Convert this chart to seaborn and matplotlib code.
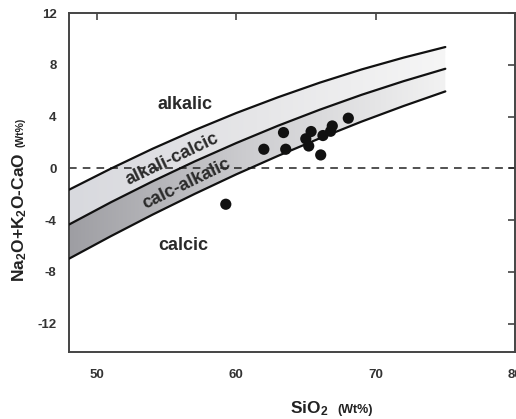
import numpy as np
import pandas as pd
import matplotlib
matplotlib.use("Agg")
import matplotlib.pyplot as plt
from matplotlib.colors import LinearSegmentedColormap
import seaborn as sns

# Limites MALI (Frost et al. 2001)
sio2_lim = [48, 51, 54, 57, 60, 63, 66, 69, 72, 75]
lim_alcalico = [-1.66, -0.03, 1.51, 2.94, 4.27, 5.49, 6.62, 7.64, 8.55, 9.37]
lim_alc_calcico = [-4.35, -2.63, -1.01, 0.52, 1.95, 3.29, 4.53, 5.68, 6.73, 7.69]
lim_calc_alcalico = [-6.99, -5.25, -3.58, -1.99, -0.47, 0.96, 2.32, 3.61, 4.81, 5.94]

# Muestras
sio2 = [61.98, 63.39, 63.55, 64.99, 65.37, 65.20, 66.06, 66.22, 66.89, 66.77, 68.04, 59.25]
mali = [1.47, 2.76, 1.47, 2.28, 2.84, 1.72, 1.03, 2.53, 3.27, 2.86, 3.87, -2.78]

xticks = [50, 60, 70, 80]
yticks = [12, 8, 4, 0, -4, -8, -12]

sns.set_style("white")
plt.rcParams["font.family"] = ["Liberation Sans", "DejaVu Sans"]
plt.rcParams["mathtext.fontset"] = "custom"
plt.rcParams["mathtext.bf"] = "Liberation Sans:bold"
plt.rcParams["mathtext.rm"] = "Liberation Sans:bold"
plt.rcParams["axes.unicode_minus"] = False

fig = plt.figure(figsize=(5.16, 4.19), dpi=100)
ax = fig.add_axes([69 / 516, 1 - 352 / 419, (515 - 69) / 516, (352 - 13) / 419])
ax.set_xlim(48, 80)
ax.set_ylim(-14.2, 12)

lim = pd.DataFrame({"sio2": sio2_lim, "a": lim_alcalico,
                    "b": lim_alc_calcico, "c": lim_calc_alcalico})

# bandas con degradado horizontal
grad = np.linspace(0, 1, 256).reshape(1, -1)
bandas = [("a", "b", ["#d8d9de", "#e6e6e8", "#f6f6f6"]),
          ("b", "c", ["#9e9ea3", "#cfcfd2", "#f2f2f2"])]
for sup, inf, cols in bandas:
    poly = ax.fill_between(lim["sio2"], lim[inf], lim[sup], facecolor="none", edgecolor="none")
    cmap = LinearSegmentedColormap.from_list("g", cols)
    im = ax.imshow(grad, extent=[48, 75, -10, 12], aspect="auto", cmap=cmap,
                   origin="lower", zorder=1)
    im.set_clip_path(poly.get_paths()[0], transform=ax.transData)

for col in ["a", "b", "c"]:
    sns.lineplot(data=lim, x="sio2", y=col, color="#111111", lw=1.6, ax=ax, zorder=3)

ax.axhline(0, color="#222222", lw=1.1, ls=(0, (5, 4)), zorder=2)

sns.scatterplot(x=sio2, y=mali, color="#111111", s=65, edgecolor="none", ax=ax, zorder=4)

ax.set_xlim(48, 80)
ax.set_ylim(-14.2, 12)
ax.set_xticks(xticks)
ax.set_yticks(yticks)
ax.tick_params(direction="in", length=5, width=1.2, color="#444444",
               top=True, right=True, labelsize=9.5, labelcolor="#333333")
ax.tick_params(axis="x", pad=12)
ax.tick_params(axis="y", pad=9)
for lab in ax.get_xticklabels() + ax.get_yticklabels():
    lab.set_fontweight("bold")
for sp in ax.spines.values():
    sp.set_color("#444444")
    sp.set_linewidth(1.4)
ax.set_xlabel("")
ax.set_ylabel("")

# nombres de campos
estilo = dict(fontsize=13, fontweight="bold", color="#2a2a2a", ha="center", va="center", zorder=5)
ax.text(56.3, 4.9, "alkalic", **estilo)
ax.text(55.4, 0.7, "alkali-calcic", rotation=25.5, rotation_mode="anchor", **estilo)
ax.text(56.4, -1.2, "calc-alkalic", rotation=26, rotation_mode="anchor", **estilo)
ax.text(56.2, -6.0, "calcic", **estilo)

# etiquetas de ejes
fig.text(309 / 516, 1 - 409 / 419, r"$\mathbf{SiO_2}$", fontsize=12.5,
         ha="center", va="center", color="#222222")
fig.text(355 / 516, 1 - 410 / 419, "(Wt%)", fontsize=9, fontweight="bold",
         ha="center", va="center", color="#222222")
fig.text(20 / 516, 1 - 217 / 419, r"$\mathbf{Na_2O{+}K_2O}$-$\mathbf{CaO}$", fontsize=12.5,
         fontweight="bold", rotation=90, ha="center", va="center", color="#222222")
fig.text(21 / 516, 1 - 132 / 419, "(Wt%)", fontsize=7.5, fontweight="bold",
         rotation=90, ha="center", va="center", color="#222222")

fig.savefig("out.png", dpi=100)
